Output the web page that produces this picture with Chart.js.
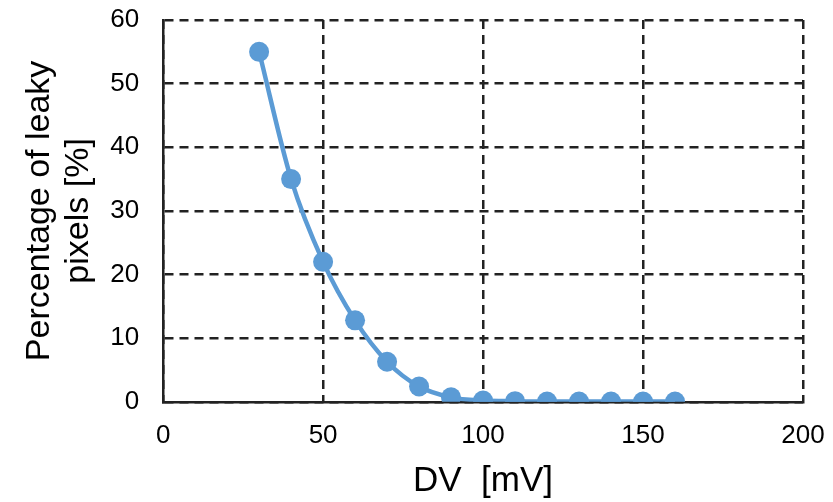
<!DOCTYPE html>
<html lang="en">
  <head>
    <meta charset="UTF-8" />
    <title>Leaky pixels vs DV</title>
    <script src="https://cdn.jsdelivr.net/npm/chart.js@4.4.1/dist/chart.umd.min.js"></script>
    <style>
      html, body {
        margin: 0;
        padding: 0;
        background: #fff;
      }
      #chartContainer {
        width: 833px;
        height: 502px;
      }
    </style>
  </head>
  <body>
    <div id="chartContainer">
      <canvas id="leakChart"></canvas>
    </div>

    <script>
      // DV in mV and percentage of leaky pixels
      const dvValues = [30, 40, 50, 60, 70, 80, 90, 100, 110, 120, 130, 140, 150, 160];
      const leakyPct = [55, 35, 22, 12.8, 6.3, 2.4, 0.7, 0.2, 0.1, 0.05, 0.05, 0.05, 0.05, 0.05];

      const xTitle = 'DV  [mV]';
      const yTitle = ['Percentage of leaky', 'pixels [%]'];

      const points = dvValues.map((x, i) => ({ x: x, y: leakyPct[i] }));
      const blue = '#5b9bd5';
      const font = 'Liberation Sans, Arial, sans-serif';

      const ctx = document.getElementById('leakChart').getContext('2d');
      new Chart(ctx, {
        type: 'line',
        data: {
          datasets: [
            {
              data: points,
              borderColor: blue,
              backgroundColor: blue,
              borderWidth: 4.5,
              pointRadius: 10,
              pointBorderWidth: 0,
              pointBackgroundColor: blue,
              cubicInterpolationMode: 'monotone',
              fill: false,
            },
          ],
        },
        options: {
          responsive: true,
          maintainAspectRatio: false,
          animation: false,
          layout: { padding: { top: 20, right: 30, left: 20, bottom: 0 } },
          plugins: {
            legend: { display: false },
            tooltip: { enabled: false },
          },
          scales: {
            x: {
              type: 'linear',
              min: 0,
              max: 200,
              ticks: {
                stepSize: 50,
                color: '#000',
                padding: 0,
                font: { family: font, size: 26 },
              },
              grid: {
                color: '#222',
                lineWidth: 2.5,
                drawTicks: true,
                tickLength: 18,
                tickColor: 'rgba(0,0,0,0)',
              },
              border: { display: true, color: '#222', width: 2.5, dash: [9, 6] },
              title: {
                display: true,
                text: xTitle,
                color: '#000',
                font: { family: font, size: 35 },
                padding: { top: 9, bottom: 0 },
              },
            },
            y: {
              min: 0,
              max: 60,
              ticks: {
                stepSize: 10,
                color: '#000',
                padding: 0,
                font: { family: font, size: 26 },
              },
              grid: {
                color: '#222',
                lineWidth: 2.5,
                drawTicks: true,
                tickLength: 24,
                tickColor: 'rgba(0,0,0,0)',
              },
              border: { display: true, color: '#222', width: 2.5, dash: [9, 6] },
              title: {
                display: true,
                text: yTitle,
                color: '#000',
                font: { family: font, size: 34, lineHeight: 1.15 },
                padding: { top: 0, bottom: 12 },
              },
            },
          },
        },
      });
    </script>
  </body>
</html>
